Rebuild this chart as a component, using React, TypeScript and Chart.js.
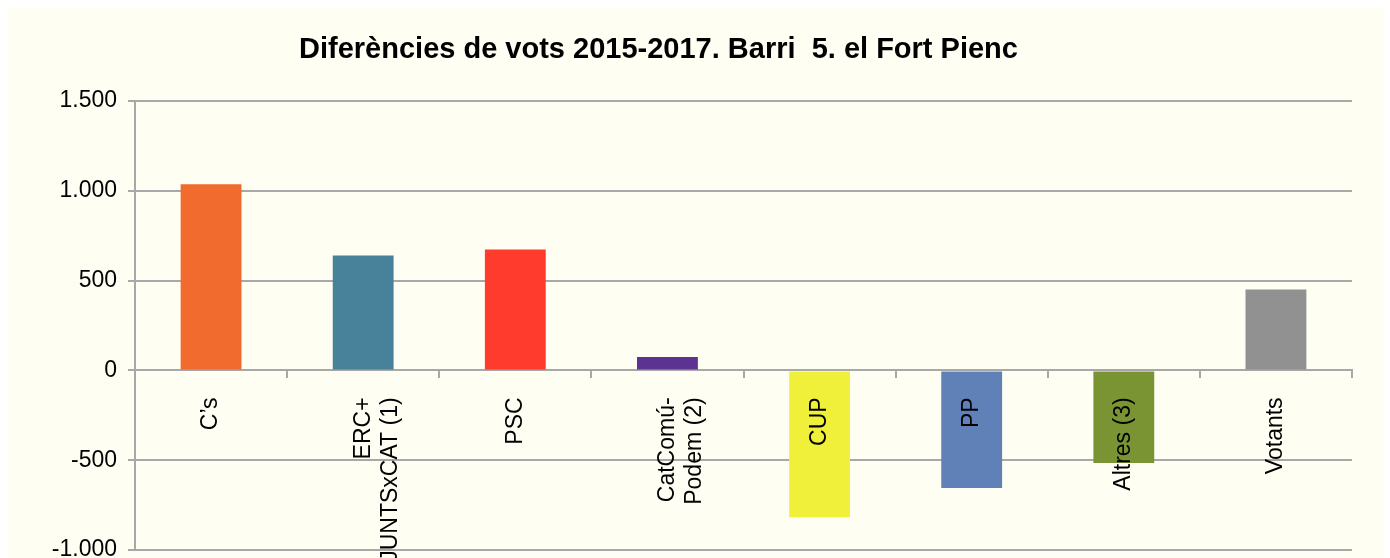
import React, { useEffect, useRef } from 'react';
import { Chart, registerables } from 'chart.js';

Chart.register(...registerables);

const TITLE = 'Diferències de vots 2015-2017. Barri  5. el Fort Pienc';

const categories: (string | string[])[] = [
  'C’s',
  ['ERC+', 'JUNTSxCAT (1)'],
  'PSC',
  ['CatComú-', 'Podem (2)'],
  'CUP',
  'PP',
  'Altres (3)',
  'Votants',
];

const differences = [1036, 640, 673, 75, -817, -655, -515, 450];

const barColors = [
  '#F06B2D',
  '#48829A',
  '#FF3B2D',
  '#5C3392',
  '#F0F03A',
  '#5F81B8',
  '#7A9433',
  '#919191',
];

const yMin = -1000;
const yMax = 1500;
const yStep = 500;

const FONT = '"Liberation Sans", Arial, sans-serif';
const GRID = '#A8A8A8';
const BG = '#FFFEF2';

const formatThousands = (v: number) => {
  const s = Math.abs(v)
    .toString()
    .replace(/\B(?=(\d{3})+(?!\d))/g, '.');
  return (v < 0 ? '-' : '') + s;
};

const backgroundAndTitle = {
  id: 'backgroundAndTitle',
  beforeDraw(chart: any) {
    const ctx = chart.ctx;
    ctx.save();
    ctx.fillStyle = BG;
    ctx.fillRect(0, 0, chart.width, chart.height);
    ctx.restore();
  },
  afterDraw(chart: any) {
    const ctx = chart.ctx;
    ctx.save();
    ctx.font = `bold 29px ${FONT}`;
    ctx.fillStyle = '#000000';
    ctx.textAlign = 'center';
    ctx.textBaseline = 'alphabetic';
    ctx.fillText(TITLE, 650.5, 50.3);
    ctx.restore();
  },
};

export default function App() {
  const canvasRef = useRef<HTMLCanvasElement | null>(null);

  useEffect(() => {
    if (!canvasRef.current) return;
    const chart = new Chart(canvasRef.current, {
      type: 'bar',
      data: {
        labels: categories,
        datasets: [
          {
            data: differences,
            backgroundColor: barColors,
            borderWidth: 0,
            barPercentage: 0.4,
            categoryPercentage: 1,
          },
        ],
      },
      options: {
        responsive: false,
        animation: false,
        layout: { padding: { top: 93, bottom: 8, left: 0, right: 32 } },
        plugins: {
          legend: { display: false },
          tooltip: { enabled: false },
          title: { display: false },
        },
        scales: {
          x: {
            type: 'category',
            position: { y: 0 } as any,
            offset: true,
            grid: {
              display: true,
              drawOnChartArea: false,
              drawTicks: true,
              tickLength: 7,
              color: GRID,
              lineWidth: 2,
              offset: true,
            },
            border: { display: true, color: GRID, width: 2 },
            ticks: {
              z: 1,
              autoSkip: false,
              maxRotation: 90,
              minRotation: 90,
              padding: 20,
              color: '#000000',
              font: { family: FONT, size: 23 },
            },
            afterFit: (s: any) => {
              s.paddingLeft = 0;
              s.paddingRight = 0;
              s.paddingTop = 0;
              s.paddingBottom = 0;
            },
          },
          y: {
            min: yMin,
            max: yMax,
            ticks: {
              stepSize: yStep,
              padding: 11,
              color: '#000000',
              font: { family: FONT, size: 23 },
              callback: (v: any) => formatThousands(Number(v)),
            },
            grid: {
              color: GRID,
              lineWidth: 2,
              tickLength: 7,
              drawTicks: true,
            },
            border: { display: true, color: GRID, width: 2 },
            afterFit: (s: any) => {
              s.width = 127;
              s.paddingTop = 0;
              s.paddingBottom = 0;
            },
          },
        },
      },
      plugins: [backgroundAndTitle],
    });
    return () => chart.destroy();
  }, []);

  return (
    <div style={{ position: 'fixed', left: 8, top: 8, width: 1376, height: 550 }}>
      <canvas ref={canvasRef} width={1376} height={550} style={{ display: 'block' }} />
    </div>
  );
}
